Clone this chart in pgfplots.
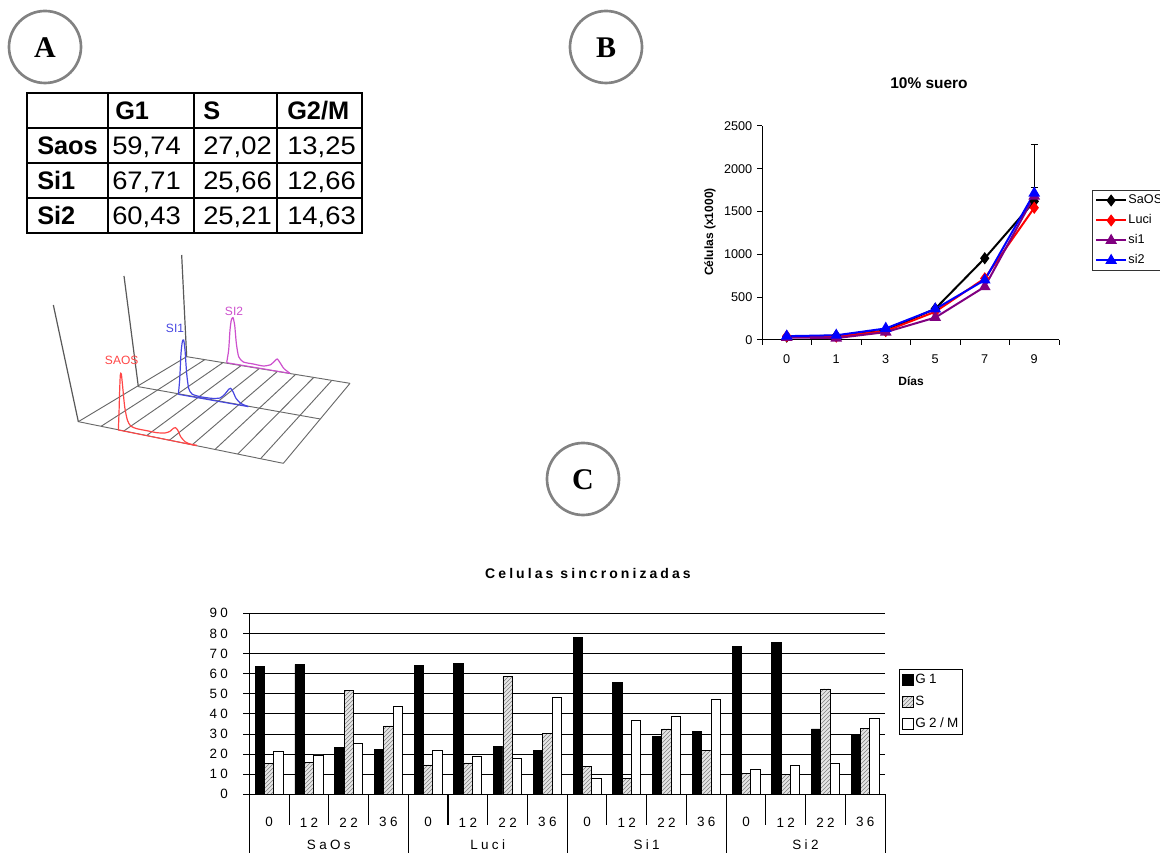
\documentclass[border=0pt]{standalone}
\usepackage{pgfplots}
\usepackage{pgfplotstable}
\pgfplotsset{compat=1.18}
\usetikzlibrary{patterns}
\usepackage{fontspec}
\setmainfont{Liberation Sans}
\newfontfamily\timesf{Liberation Serif}
\newfontfamily\tabnum[FakeStretch=1.08]{Liberation Sans}
\newfontfamily\spaced[LetterSpace=25]{Liberation Sans}
\newfontfamily\spacedt[LetterSpace=22]{Liberation Sans}
\definecolor{sipurple}{RGB}{128,0,128}
\definecolor{cred}{RGB}{255,70,70}
\definecolor{cblue}{RGB}{70,70,225}
\definecolor{cpink}{RGB}{205,80,205}
\definecolor{cgray}{RGB}{130,130,130}
\definecolor{gridgray}{RGB}{105,105,105}

\pgfplotstableread{
x G1 S G2M
0 63.8 15.4 21.2
1 64.6 15.9 19.6
2 23.2 51.7 25.5
3 22.2 34.0 43.9
4 64.1 14.6 21.7
5 65.0 15.6 18.9
6 23.7 58.5 17.9
7 21.7 30.3 48.2
8 78.2 13.8 8.1
9 55.7 8.1 36.8
10 29.0 32.5 38.8
11 31.2 21.7 47.2
12 73.6 10.4 12.4
13 75.4 9.8 14.6
14 32.5 52.4 15.6
15 29.5 32.8 37.6
}\cdata

\pgfplotstableread{
x SaOS Luci si1 si2
0 40 45 30 45
1 50 40 22 55
2 110 105 92 135
3 365 330 262 362
4 955 720 622 700
5 1620 1545 1680 1715
}\bdata

\begin{document}
\begin{tikzpicture}
% ---------- pixel-coordinate decorations ----------
\begin{scope}[x=0.75pt,y=-0.75pt,yshift=639.75pt]
\foreach \cx/\cy/\L in {45/47/A,606/47/B,583/479/C}{
  \draw[cgray,line width=2pt] (\cx,\cy) circle[radius=36];
  \node[font=\timesf\bfseries\fontsize{22.5}{26}\selectfont] at (\cx,\cy+1) {\L};
}
% table
\draw[line width=1.5pt] (27,93) rectangle (362,233);
\foreach \yy in {128,163,198} \draw[line width=1.5pt] (27,\yy) -- (362,\yy);
\foreach \xx in {108,194,277} \draw[line width=1.5pt] (\xx,93) -- (\xx,233);
\begin{scope}[every node/.style={anchor=base west, inner sep=0pt, font=\tabnum\fontsize{19}{22}\selectfont}]
\node[font=\bfseries\fontsize{19}{22}\selectfont] at (115,119.5) {G1};
\node[font=\bfseries\fontsize{19}{22}\selectfont] at (203,119.5) {S};
\node[font=\bfseries\fontsize{19}{22}\selectfont] at (287,119.5) {G2/M};
\node[font=\bfseries\fontsize{19}{22}\selectfont] at (37,154.5) {Saos};
\node[font=\bfseries\fontsize{19}{22}\selectfont] at (37,189.5) {Si1};
\node[font=\bfseries\fontsize{19}{22}\selectfont] at (37,224.5) {Si2};
\node at (112,154.5) {59,74}; \node at (203,154.5) {27,02}; \node at (287,154.5) {13,25};
\node at (112,189.5) {67,71}; \node at (203,189.5) {25,66}; \node at (287,189.5) {12,66};
\node at (112,224.5) {60,43}; \node at (203,224.5) {25,21}; \node at (287,224.5) {14,63};
\end{scope}
% panel B texts
\node[font=\bfseries\fontsize{11.6}{14}\selectfont] at (929,83) {10\% suero};
\node[rotate=90,font=\bfseries\fontsize{9}{11}\selectfont] at (710,232) {Células (x1000)};
\node[font=\bfseries\fontsize{9}{11}\selectfont] at (911,381) {Días};
% panel C texts
\node[font=\spacedt\bfseries\fontsize{10.5}{12}\selectfont] at (588,573) {Celulas sincronizadas};
\foreach \gx/\gl in {328.8/SaOs,487.7/Luci,646.6/Si1,805.5/Si2}
  \node[font=\spaced\fontsize{10.1}{12}\selectfont] at (\gx,845) {\gl};
\end{scope}

% ---------- panel A: 3D histogram sketch ----------
\begin{axis}[at={(22.5pt,279.75pt)}, anchor=south west, scale only axis,
  width=240pt, height=180pt, xmin=0, xmax=960, ymin=0, ymax=720,
  y dir=reverse, hide axis, clip=false]
\addplot[gridgray, line width=0.7pt] coordinates {(145,545) (760,670)};
\addplot[gridgray, line width=0.7pt] coordinates {(325,440) (871,537)};
\addplot[gridgray, line width=0.7pt] coordinates {(470,350) (960,430)};
\addplot[gridgray, line width=0.7pt] coordinates {(145,545) (470,350)};
\addplot[gridgray, line width=0.7pt] coordinates {(213.3,558.9) (524.4,358.9)};
\addplot[gridgray, line width=0.7pt] coordinates {(281.7,572.8) (578.9,367.8)};
\addplot[gridgray, line width=0.7pt] coordinates {(350,586.7) (633.3,376.7)};
\addplot[gridgray, line width=0.7pt] coordinates {(418.3,600.6) (687.8,385.6)};
\addplot[gridgray, line width=0.7pt] coordinates {(486.7,614.4) (742.2,394.4)};
\addplot[gridgray, line width=0.7pt] coordinates {(555,628.3) (796.7,403.3)};
\addplot[gridgray, line width=0.7pt] coordinates {(623.3,642.2) (851.1,412.2)};
\addplot[gridgray, line width=0.7pt] coordinates {(691.7,656.1) (905.6,421.1)};
\addplot[gridgray, line width=0.7pt] coordinates {(760,670) (960,430)};
\addplot[black!65, line width=0.9pt] coordinates {(145,545) (70,195)};
\addplot[black!65, line width=0.9pt] coordinates {(325,440) (282,108)};
\addplot[black!65, line width=0.9pt] coordinates {(470,350) (455,45)};
% baselines of histograms
\addplot[cred, line width=0.8pt] coordinates {(265,570) (500,617)};
\addplot[cblue, line width=0.8pt] coordinates {(445,463) (655,500)};
\addplot[cpink, line width=0.8pt] coordinates {(590,368) (780,400)};
% curves
\addplot[cred, line width=0.9pt, smooth, tension=0.4] coordinates {(265,570) (267,520) (269,450) (271,405) (274,402) (278,440) (284,500) (292,540) (302,558) (320,566) (350,572) (380,578) (405,579) (420,574) (430,565) (436,563) (443,570) (452,590) (465,605) (480,612) (500,616)};
\addplot[cblue, line width=0.9pt, smooth, tension=0.4] coordinates {(445,463) (449,420) (453,340) (457,305) (461,300) (465,330) (470,400) (476,445) (486,462) (510,470) (545,475) (570,474) (585,462) (596,448) (602,445) (609,455) (618,475) (632,490) (655,500)};
\addplot[cpink, line width=0.9pt, smooth, tension=0.4] coordinates {(590,368) (596,330) (600,270) (604,240) (609,233) (614,255) (619,310) (626,350) (640,366) (670,372) (700,378) (722,374) (735,362) (742,357) (750,368) (762,386) (780,400)};
\node[text=cred, font=\fontsize{9}{11}\selectfont] at (axis cs:275,362) {SAOS};
\node[text=cblue, font=\fontsize{9}{11}\selectfont] at (axis cs:435,265) {SI1};
\node[text=cpink, font=\fontsize{9}{11}\selectfont] at (axis cs:612,215) {SI2};
\end{axis}

% ---------- panel B ----------
\begin{axis}[at={(571.5pt,384.75pt)}, anchor=south west, scale only axis,
  width=222.75pt, height=160.5pt,
  xmin=-0.5, xmax=5.5, ymin=0, ymax=2500,
  axis lines=left, axis line style={-, line width=0.75pt},
  xtick={0,...,5}, xticklabels={0,1,3,5,7,9},
  minor xtick={-0.5,0.5,...,5.5},
  ytick={0,500,...,2500}, yticklabels={0,500,1000,1500,2000,2500},
  major x tick style={draw=none},
  tick align=outside, major tick length=3.75pt, minor tick length=3.75pt,
  tick style={black, line width=0.75pt},
  ticklabel style={font=\fontsize{9.5}{11}\selectfont},
  xticklabel style={anchor=center, yshift=-10.5pt},
  clip=false,
  legend style={at={(1.111,0.701)}, anchor=north west, draw=black!80, line width=0.75pt,
    font=\fontsize{9.5}{11}\selectfont, row sep=4pt, inner xsep=2pt, inner ysep=2pt,
    nodes={inner sep=1pt, text height=7pt, text depth=2pt}},
  legend cell align=left,
  legend image code/.code={\draw[mark repeat=2,mark phase=2,#1] plot coordinates {(0pt,0pt) (11.25pt,0pt) (22.5pt,0pt)};},
]
\addplot[black, line width=1.5pt, mark=diamond*, mark size=3.4pt, mark options={solid}] table[x=x,y=SaOS]{\bdata};
\addplot[red, line width=1.5pt, mark=diamond*, mark size=3.4pt, mark options={solid}] table[x=x,y=Luci]{\bdata};
\addplot[sipurple, line width=1.5pt, mark=triangle*, mark size=3.6pt, mark options={solid}] table[x=x,y=si1]{\bdata};
\addplot[blue, line width=1.5pt, mark=triangle*, mark size=3.6pt, mark options={solid}] table[x=x,y=si2]{\bdata};
\legend{SaOS,Luci,si1,si2}
\addplot[forget plot, draw=none, mark=none, error bars/.cd, y dir=plus, y explicit,
  error bar style={draw=black, solid, line width=0.75pt},
  error mark options={rotate=90, mark size=2.6pt, draw=black, line width=0.75pt}]
  coordinates {(5,1620) +- (0,660)};
\addplot[forget plot, draw=none, mark=none, error bars/.cd, y dir=plus, y explicit,
  error bar style={draw=black, solid, line width=0.75pt},
  error mark options={rotate=90, mark size=2.6pt, draw=black, line width=0.75pt}]
  coordinates {(5,1715) +- (0,62)};
\end{axis}

% ---------- panel C ----------
\begin{axis}[at={(187pt,44pt)}, anchor=south west, scale only axis,
  width=476.8pt, height=135.75pt,
  xmin=-0.5, xmax=15.5, ymin=0, ymax=90,
  axis lines=left, axis line style={-, line width=0.8pt},
  ybar, bar width=0.235,
  ymajorgrids, grid style={black, line width=0.7pt},
  ytick={0,10,...,90}, yticklabels={0,10,20,30,40,50,60,70,80,90},
  xtick={0,...,15}, xticklabels={0,12,22,36,0,12,22,36,0,12,22,36,0,12,22,36},
  x tick style={draw=none}, y tick style={black, line width=0.7pt},
  tick align=outside, major tick length=4.5pt,
  ticklabel style={font=\spaced\fontsize{10.1}{12}\selectfont},
  xticklabel style={anchor=center, yshift=-16.5pt},
  yticklabel style={anchor=east, xshift=-8pt},
  clip=false,
  legend style={at={(1.022,0.692)}, anchor=north west, draw=black, line width=0.75pt,
    font=\spaced\fontsize{10.1}{12}\selectfont, row sep=5pt, inner xsep=2pt, inner ysep=2pt,
    nodes={inner sep=1pt, text height=7.5pt, text depth=2pt},
    /tikz/every even column/.append style={column sep=2.5pt}},
  legend cell align=left,
  legend image code/.code={\draw[#1, line width=0.6pt] (0pt,-4.1pt) rectangle (8.25pt,4.1pt);},
]
\addplot[fill=black, draw=black, line width=0.6pt, bar shift=-0.235] table[x=x,y=G1]{\cdata};
\addplot[fill=gray!20, draw=black, line width=0.6pt, postaction={pattern=north east lines, pattern color=gray}, bar shift=0] table[x=x,y=S]{\cdata};
\addplot[fill=white, draw=black, line width=0.6pt, bar shift=0.235] table[x=x,y=G2M]{\cdata};
\legend{G1,S,G2/M\hspace{6pt}}
\pgfplotsinvokeforeach{0.5,1.5,2.5,4.5,5.5,6.5,8.5,9.5,10.5,12.5,13.5,14.5}{\draw[line width=0.8pt] (axis cs:#1,0) -- ++(0pt,-23.25pt);}
\pgfplotsinvokeforeach{-0.5,3.5,7.5,11.5,15.5}{\draw[line width=0.8pt] (axis cs:#1,0) -- ++(0pt,-50pt);}
\end{axis}

\pgfresetboundingbox
\path[use as bounding box] (0,0) rectangle (870pt,639.75pt);
\end{tikzpicture}
\end{document}
